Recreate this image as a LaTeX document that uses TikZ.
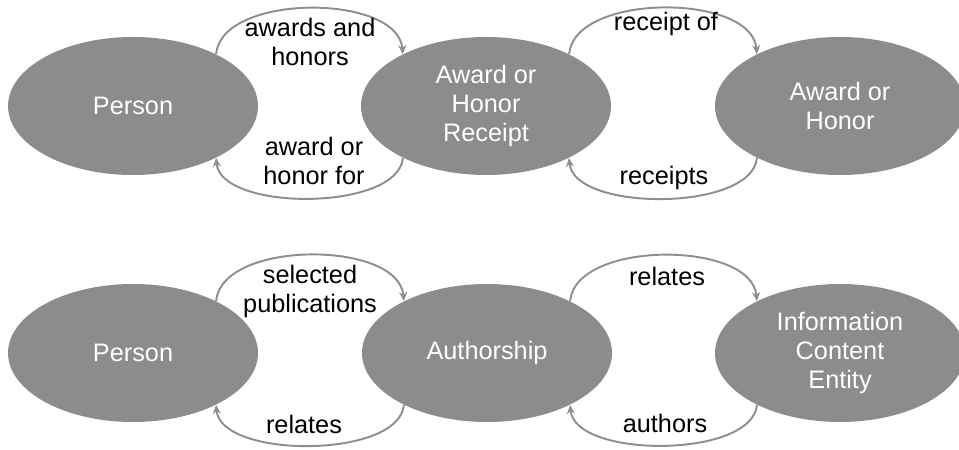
\documentclass[tikz,border=0pt]{standalone}
\usepackage{fontspec}
\setmainfont{Liberation Sans}
\usepackage{tikz}
\usepackage{xcolor}
\usetikzlibrary{arrows.meta, shapes.geometric}
\definecolor{classgray}{HTML}{8C8C8C}
\definecolor{linkgray}{HTML}{8E8E8E}
\tikzset{
  cls/.style={ellipse, fill=classgray, text=white, align=center, inner sep=0pt,
              minimum width=5cm, minimum height=2.76cm,
              font=\fontsize{14.4}{16.5}\selectfont},
  rel/.style={align=center, text=black, inner sep=0pt,
              font=\fontsize{14.4}{16.5}\selectfont},
  flow/.style={-{Stealth[length=1.8mm, width=1.6mm]}, line width=1.1pt, draw=linkgray},
}

\begin{document}
\begin{tikzpicture}
  \useasboundingbox (0,0) rectangle (19.18,8.98);
  % awards row
  \node[cls] (per1) at (2.66,6.86) {Person};
  \node[cls] (rcpt) at (9.72,6.86) {Award or\\Honor\\Receipt};
  \node[cls] (awd) at (16.80,6.86) {Award or\\Honor};
  % authorship row
  \node[cls] (per2) at (2.66,1.92) {Person};
  \node[cls] (auth) at (9.74,1.92) {Authorship};
  \node[cls] (ice) at (16.80,1.92) {Information\\Content\\Entity};
  \foreach \a/\b in {per1/rcpt, rcpt/awd, per2/auth, auth/ice}{
    \draw[flow] (\a.32) to[out=85,in=95,looseness=0.84] (\b.148);
    \draw[flow] (\b.212) to[out=-95,in=-85,looseness=0.74] (\a.-32);}
  \node[rel] (awh) at (6.20,8.15) {awards and\\honors};
  \node[rel] (awf) at (6.28,5.77) {award or\\honor for};
  \node[rel] (rof) at (13.32,8.51) {receipt of};
  \node[rel] (rcs) at (13.28,5.43) {receipts};
  \node[rel] (spb) at (6.20,3.15) {selected\\publications};
  \node[rel] (rl1) at (6.08,0.50) {relates};
  \node[rel] (rl2) at (13.34,3.46) {relates};
  \node[rel] (ath) at (13.30,0.52) {authors};
\end{tikzpicture}
\end{document}
